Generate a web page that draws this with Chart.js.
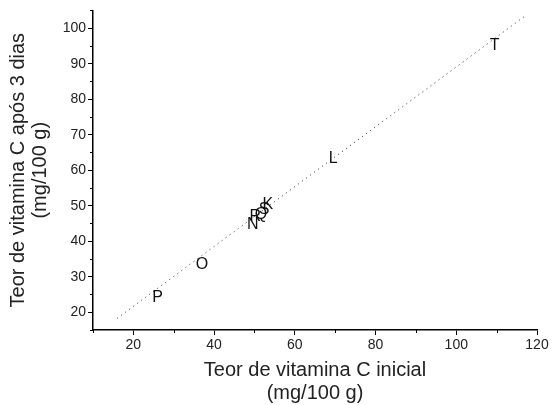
<!DOCTYPE html>
<html><head><meta charset="utf-8">
<script src="https://cdn.jsdelivr.net/npm/chart.js@4/dist/chart.umd.min.js"></script>
<style>html,body{margin:0;padding:0;background:#fff}#wrap{width:552px;height:405px}</style>
</head><body><div id="wrap"><canvas id="c" width="552" height="405"></canvas></div>
<script>
const sampleLabels = ['T','L','O','P','N','R','Q','S','K'];
const initialVals  = [109.5, 69.5, 37, 26, 49.6, 50.2, 51.6, 52.4, 53.3];
const after3Vals   = [95, 63.2, 33.5, 24, 44.8, 46.8, 47.4, 48.8, 50.2];
const fitLineX = [16, 117];
const fitLineY = [18.3, 103.4];
const xTitle = ['Teor de vitamina C inicial', '(mg/100 g)'];
const yTitle = ['Teor de vitamina C após 3 dias', '(mg/100 g)'];

const FONT = 'Liberation Sans, Arial, sans-serif';

const letterPlugin = {
  id: 'letters',
  afterDatasetsDraw(chart) {
    const meta = chart.getDatasetMeta(1);
    const ctx = chart.ctx;
    ctx.save();
    ctx.font = '16px ' + FONT;
    ctx.fillStyle = '#111';
    ctx.textAlign = 'center';
    ctx.textBaseline = 'middle';
    meta.data.forEach((el, i) => ctx.fillText(sampleLabels[i], el.x, el.y));
    ctx.restore();
  },
  afterDraw(chart) {
    const ctx = chart.ctx;
    ctx.save();
    ctx.strokeStyle = '#000';
    ctx.lineWidth = 1;
    const xs = chart.scales.x, ys = chart.scales.y;
    xs.ticks.forEach(t => {
      if (t.value % 20 !== 0) {
        const px = Math.round(xs.getPixelForValue(t.value)) + 0.5;
        ctx.beginPath(); ctx.moveTo(px, xs.top); ctx.lineTo(px, xs.top + 3); ctx.stroke();
      }
    });
    ys.ticks.forEach(t => {
      if (t.value % 10 !== 0) {
        const py = Math.round(ys.getPixelForValue(t.value)) + 0.5;
        ctx.beginPath(); ctx.moveTo(ys.right, py); ctx.lineTo(ys.right - 3, py); ctx.stroke();
      }
    });
    ctx.restore();
  }
};

new Chart(document.getElementById('c'), {
  type: 'scatter',
  data: {
    datasets: [
      {
        type: 'line',
        data: fitLineX.map((x, i) => ({x, y: fitLineY[i]})),
        borderColor: '#222',
        borderWidth: 1,
        borderDash: [1, 4],
        pointRadius: 0,
        fill: false
      },
      {
        data: initialVals.map((x, i) => ({x, y: after3Vals[i]})),
        pointRadius: 0,
        backgroundColor: 'transparent',
        borderColor: 'transparent'
      }
    ]
  },
  options: {
    responsive: false,
    animation: false,
    devicePixelRatio: 1,
    layout: { padding: { top: 10, right: 15, left: 7, bottom: 0 } },
    plugins: { legend: { display: false }, tooltip: { enabled: false } },
    scales: {
      x: {
        type: 'linear',
        min: 10, max: 120,
        border: { display: true, color: '#000', width: 1.5 },
        grid: { drawOnChartArea: false, drawTicks: true, tickLength: 5,
                tickColor: c => (c.tick && c.tick.value % 20 === 0) ? '#000' : 'rgba(0,0,0,0)' },
        ticks: { stepSize: 10, autoSkip: false, maxRotation: 0, color: '#222',
                 font: { family: FONT, size: 14 }, padding: 2,
                 callback: v => (v % 20 === 0) ? String(v) : '' },
        title: { display: true, text: xTitle, color: '#222',
                 font: { family: FONT, size: 20, lineHeight: 1.15 }, padding: { top: 4, bottom: 0 } },
        afterFit: s => { s.height = 75; }
      },
      y: {
        type: 'linear',
        min: 15, max: 105,
        border: { display: true, color: '#000', width: 1.5 },
        grid: { drawOnChartArea: false, drawTicks: true, tickLength: 5,
                tickColor: c => (c.tick && c.tick.value % 10 === 0) ? '#000' : 'rgba(0,0,0,0)' },
        ticks: { stepSize: 5, autoSkip: false, color: '#222',
                 font: { family: FONT, size: 14 }, padding: 2,
                 callback: v => (v % 10 === 0 && v >= 20 && v <= 100) ? String(v) : '' },
        title: { display: true, text: yTitle, color: '#222',
                 font: { family: FONT, size: 20, lineHeight: 1.1 }, padding: { top: 0, bottom: 4 } },
        afterFit: s => { s.width = 86; }
      }
    }
  },
  plugins: [letterPlugin]
});
</script>
</body></html>
